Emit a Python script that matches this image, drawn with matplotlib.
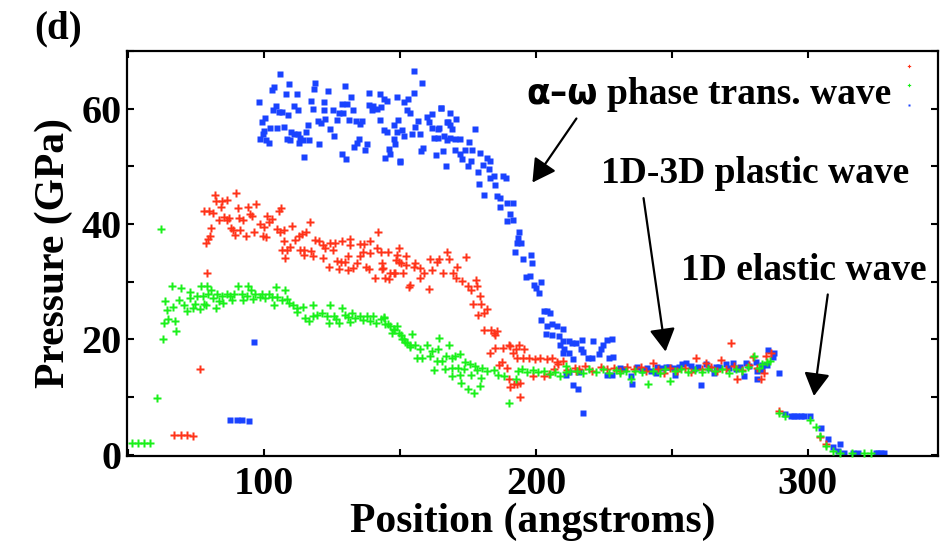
import matplotlib
matplotlib.use("Agg")
import matplotlib.pyplot as plt
from matplotlib.ticker import MultipleLocator

# pressure profiles: (position in angstroms, pressure in GPa)
blue_pts = [
    (87.5, 6.0), (89.8, 6.0), (92.0, 6.0), (94.3, 5.8), (96.3, 19.5),
    (98.2, 61.2), (105.9, 66.1), (102.8, 63.3), (103.7, 63.8), (109.3, 64.2), (108.1, 62.5),
    (112.0, 62.5), (118.8, 64.5), (118.2, 63.5), (123.5, 63.0), (129.6, 64.0), (132.0, 62.0),
    (138.7, 62.7), (142.5, 62.5), (148.8, 62.0), (155.0, 66.5), (158.2, 64.5), (155.0, 62.7),
    (152.8, 61.7), (151.6, 61.2), (145.1, 61.4), (144.2, 61.7), (128.5, 60.8), (130.6, 60.8),
    (117.3, 61.3), (122.1, 61.2), (104.3, 60.5), (110.8, 60.5), (103.2, 59.7), (105.3, 59.5),
    (106.7, 59.4), (108.7, 58.9), (112.6, 59.7), (117.8, 59.9), (121.9, 59.7), (125.2, 59.7),
    (127.7, 59.3), (129.0, 59.2), (132.5, 59.7), (138.7, 60.7), (140.2, 60.5), (141.5, 59.9),
    (139.6, 59.7), (143.0, 60.3), (152.5, 59.7), (153.5, 59.3), (165.2, 60.1), (161.7, 59.0),
    (159.9, 58.6), (100.4, 58.4), (99.1, 57.7), (119.8, 57.9), (122.5, 58.2), (121.0, 57.5),
    (126.7, 58.1), (131.3, 58.1), (133.9, 57.9), (136.0, 57.8), (142.7, 58.1), (149.4, 58.1),
    (147.9, 57.1), (156.5, 57.9), (160.8, 57.7), (167.2, 57.7), (161.7, 56.7), (163.8, 56.4),
    (155.6, 56.8), (116.0, 57.2), (107.1, 56.9), (104.7, 56.7), (102.0, 56.6), (99.8, 56.2),
    (99.4, 55.7), (109.9, 55.9), (111.1, 55.7), (112.3, 55.7), (115.5, 55.9), (124.3, 56.5),
    (125.5, 55.3), (135.4, 57.3), (143.9, 56.3), (145.3, 55.9), (148.8, 55.9), (150.6, 56.3),
    (151.3, 55.3), (147.6, 54.7), (154.3, 55.7), (157.5, 55.7), (162.3, 54.9), (164.1, 54.9),
    (166.0, 55.3), (108.3, 54.7), (109.6, 54.5), (113.3, 54.9), (114.1, 54.5), (116.3, 54.6),
    (98.5, 54.7), (100.7, 54.5), (101.6, 54.0), (112.9, 54.0), (120.0, 53.8), (134.7, 54.7),
    (134.1, 54.0), (132.9, 53.3), (138.0, 53.8), (137.2, 52.8), (146.1, 53.0), (148.2, 53.8),
    (144.6, 51.5), (146.4, 52.2), (158.4, 53.2), (157.7, 52.6), (165.7, 52.6), (163.3, 51.9),
    (167.2, 54.5), (168.5, 57.1), (168.5, 59.2), (114.5, 51.7), (128.6, 52.1), (130.2, 51.3),
    (149.8, 50.7), (150.1, 51.0),
    (165.1, 60.2), (170.7, 58.2), (164.5, 56.7), (167.6, 57.7), (169.1, 56.5), (177.7, 56.4),
    (168.2, 54.9), (170.3, 54.7), (172.2, 54.7), (175.2, 54.2), (170.3, 52.9), (173.8, 52.9),
    (176.5, 52.8), (171.9, 52.1), (172.8, 51.3), (179.3, 52.3), (182.0, 51.5), (183.0, 50.9),
    (176.2, 51.0), (166.9, 50.0), (174.9, 50.0), (180.5, 50.2), (182.6, 49.6), (178.5, 49.0),
    (184.7, 48.4), (187.8, 48.4), (178.9, 47.0), (183.1, 47.9), (184.9, 46.7), (188.8, 47.9),
    (181.0, 45.0), (185.6, 44.8), (186.8, 44.6), (189.3, 43.7), (191.5, 43.6), (186.7, 43.0),
    (190.6, 41.8), (189.2, 40.6), (191.5, 40.7), (193.9, 38.7), (193.3, 37.5), (193.1, 36.8),
    (194.5, 36.8), (192.4, 35.1), (195.2, 34.0), (198.0, 34.7), (198.5, 33.2), (196.5, 30.9),
    (197.7, 31.0), (199.2, 29.5), (200.2, 28.9), (201.0, 28.0), (202.0, 29.9), (202.9, 24.9),
    (204.1, 24.9), (205.0, 24.6), (202.0, 23.4), (204.1, 22.4), (205.9, 22.6), (207.8, 22.4),
    (203.8, 20.9), (205.9, 20.7), (208.4, 20.6), (209.9, 21.8), (210.0, 19.7), (212.0, 19.7),
    (213.3, 19.4), (209.0, 19.1), (214.9, 19.3), (209.8, 17.7), (212.0, 17.7), (211.2, 13.8),
    (213.7, 12.1), (215.3, 11.4),
    (217.0, 19.9), (221.0, 19.7), (224.7, 19.1), (226.2, 19.9), (228.0, 20.1), (210.3, 18.3),
    (216.4, 18.3), (217.3, 17.8), (223.8, 18.3), (223.2, 17.4), (219.3, 16.8), (220.5, 16.8),
    (226.9, 16.7), (228.2, 17.0), (213.8, 16.6), (212.0, 14.4), (216.0, 14.4), (226.2, 13.8),
    (228.0, 13.8), (230.8, 15.1), (234.8, 13.7), (235.4, 12.2), (237.2, 15.3), (239.1, 14.7),
    (244.0, 14.1), (244.4, 15.3), (247.7, 15.3), (250.7, 15.1), (253.8, 15.7), (255.1, 15.9),
    (251.0, 13.8), (258.1, 14.9), (260.6, 12.1), (262.4, 15.7), (266.2, 15.3), (265.6, 14.1),
    (269.8, 15.7), (272.6, 15.9), (273.5, 14.8), (277.2, 16.0), (276.6, 13.7), (280.8, 16.1),
    (281.4, 14.5), (281.2, 13.2), (232.5, 14.8), (241.0, 15.0), (242.5, 14.6), (246.0, 15.0),
    (249.0, 15.2), (252.5, 15.3), (257.0, 15.4), (259.5, 15.2), (263.8, 15.0), (267.5, 15.2),
    (271.0, 15.0), (275.0, 15.3), (278.5, 15.4), (283.3, 15.6),
    (285.4, 18.2), (287.6, 17.7), (287.1, 17.0), (283.3, 14.7), (284.9, 15.6), (289.5, 14.1),
    (217.3, 7.2),
    (291.8, 7.1), (293.7, 6.7), (294.9, 6.7), (296.1, 6.7), (297.4, 6.7), (298.6, 6.7),
    (300.7, 6.7), (304.8, 4.6), (307.5, 2.8), (309.5, 1.3), (311.9, 1.8), (311.3, 0.7),
    (313.4, 0.3), (316.5, 0.3), (318.7, 0.3), (325.0, 0.3), (326.0, 0.3), (327.0, 0.3),
    (328.1, 0.3),
]

red_pts = [
    (66.9, 3.4), (69.2, 3.4), (71.4, 3.4), (73.8, 3.2), (76.2, 14.8), (78.8, 31.5),
    (82.0, 45.1), (89.7, 45.4), (82.3, 44.0), (84.4, 44.0), (86.2, 44.2), (84.0, 43.0),
    (77.9, 42.2), (79.7, 42.2), (81.1, 41.9), (90.2, 42.8), (94.2, 43.0), (97.1, 43.4),
    (94.8, 41.8), (95.5, 41.4), (106.1, 42.7), (105.5, 42.2), (83.2, 40.7), (85.3, 41.3),
    (86.2, 40.7), (86.9, 41.1), (90.9, 41.1), (92.3, 40.7), (101.0, 41.4), (101.9, 40.4),
    (103.0, 40.9), (98.3, 40.0), (100.0, 39.5), (80.5, 39.4), (87.7, 39.3), (88.5, 38.9),
    (91.2, 39.0), (96.3, 38.7), (93.3, 37.9), (89.3, 38.1), (99.5, 37.9), (100.5, 37.8),
    (104.7, 39.1), (105.9, 38.7), (107.4, 39.0), (110.2, 39.7), (116.7, 40.4), (113.9, 38.3),
    (112.7, 37.9), (111.4, 37.2), (115.5, 38.7), (80.1, 37.9), (79.4, 37.4), (78.6, 36.7),
    (107.1, 37.0), (109.6, 36.1), (106.5, 35.5), (108.3, 35.5), (113.0, 35.5), (114.5, 35.5),
    (117.3, 35.3), (118.8, 37.2), (120.0, 37.0), (121.6, 36.4), (122.5, 35.8), (124.3, 36.7),
    (126.1, 36.7), (128.6, 37.0), (131.4, 37.4), (135.4, 36.6), (136.6, 36.6), (138.8, 37.1),
    (141.7, 38.7), (114.7, 34.7), (107.7, 34.1), (117.9, 34.4), (121.8, 34.1), (125.2, 35.5),
    (126.7, 33.6), (128.2, 33.5), (129.8, 33.5), (131.0, 34.4), (131.6, 36.4), (136.5, 35.2),
    (135.4, 34.4), (134.2, 33.2), (139.0, 34.9), (141.5, 35.8), (143.0, 35.1), (145.5, 35.2),
    (149.5, 35.8), (148.9, 34.7), (152.3, 34.5), (123.7, 32.5), (127.4, 32.2), (130.7, 32.1),
    (132.6, 32.4), (137.5, 32.5), (138.6, 32.2), (143.3, 32.2), (140.8, 30.6), (146.4, 31.5),
    (148.2, 31.6), (146.1, 30.5), (149.5, 33.5), (152.0, 32.9), (153.2, 29.1),
    (148.6, 33.8), (143.4, 33.2), (143.8, 32.3), (147.6, 31.5), (144.6, 30.6), (150.3, 33.2),
    (151.0, 31.5), (155.6, 33.2), (155.0, 32.5), (157.5, 32.3), (158.7, 31.5), (160.9, 33.9),
    (161.7, 32.1), (157.2, 30.6), (160.5, 28.7), (153.8, 29.5), (164.2, 33.9), (163.6, 33.4),
    (167.2, 35.1), (167.9, 33.9), (165.8, 31.6), (169.4, 31.5), (170.9, 32.6), (170.7, 30.6),
    (172.8, 30.1), (174.4, 34.3), (174.9, 29.3), (178.1, 30.3), (178.3, 29.3), (176.1, 28.5),
    (179.3, 27.5), (176.9, 26.2), (179.6, 26.2), (182.0, 25.3), (181.0, 24.6), (178.5, 24.3),
    (180.7, 21.6), (183.4, 21.6), (184.4, 21.2), (185.6, 21.4), (185.0, 20.7), (183.2, 17.7),
    (185.0, 18.6), (190.0, 19.1), (188.0, 18.6), (190.6, 18.8), (192.5, 18.3), (193.7, 19.0),
    (191.5, 17.7), (195.5, 18.4), (197.3, 16.8), (199.8, 16.6), (201.4, 16.7), (203.9, 16.6),
    (205.9, 16.7), (207.8, 16.1), (210.0, 16.3), (193.1, 16.8), (195.3, 16.8), (187.5, 16.1),
    (186.3, 15.5), (189.3, 15.1), (190.0, 13.2), (191.8, 12.2), (190.4, 11.8), (193.1, 12.2),
    (194.3, 12.4), (194.0, 10.1), (198.9, 13.6), (202.9, 13.6), (206.5, 14.8), (204.7, 14.0),
    (214.6, 14.5),
    (208.3, 15.7), (214.2, 15.1), (218.1, 15.4), (223.8, 15.3), (228.6, 15.1), (233.6, 15.3),
    (243.1, 16.0), (247.1, 14.1), (258.8, 16.8), (262.4, 16.0), (268.0, 16.4), (271.6, 19.3),
    (274.1, 13.2), (280.0, 17.0), (282.8, 13.1), (284.6, 17.1), (286.4, 17.7),
    (211.5, 14.7), (216.0, 14.9), (220.5, 14.6), (226.0, 14.9), (231.0, 14.5), (236.0, 14.8),
    (238.5, 15.2), (240.5, 14.6), (245.0, 14.9), (249.5, 15.1), (252.0, 14.6), (255.0, 15.0),
    (257.0, 14.4), (261.0, 14.8), (264.5, 15.2), (266.5, 14.5), (270.0, 14.9), (273.0, 15.4),
    (276.0, 14.7), (278.5, 15.5), (281.5, 15.0), (283.8, 14.2),
    (289.5, 7.6), (304.5, 3.1), (306.9, 1.8),
]

green_pts = [
    (51.4, 2.0), (53.6, 2.0), (55.8, 2.0), (58.0, 2.0), (60.4, 9.9), (62.0, 39.1),
    (62.9, 20.0), (63.2, 22.9), (64.5, 23.5), (67.3, 23.2), (67.7, 21.4),
    (66.0, 29.3), (69.3, 28.9), (72.7, 28.3), (76.6, 29.3), (78.8, 29.3), (80.4, 28.5),
    (90.2, 29.3), (94.2, 29.3), (95.1, 28.6), (104.3, 29.1), (107.5, 28.5), (63.5, 26.6),
    (66.6, 25.6), (64.1, 25.1), (68.8, 26.9), (70.3, 25.9), (71.5, 24.9), (72.7, 27.2),
    (74.6, 26.2), (75.2, 27.5), (77.4, 27.6), (77.9, 26.2), (79.4, 27.8), (81.1, 27.2),
    (82.8, 27.8), (84.4, 27.5), (83.5, 26.6), (86.2, 27.8), (87.5, 27.5), (89.0, 27.8),
    (88.0, 26.8), (84.9, 26.3), (82.3, 25.5), (78.6, 26.0), (76.4, 25.3), (73.9, 25.5),
    (91.7, 27.8), (92.3, 26.8), (93.6, 27.5), (95.8, 27.0), (96.7, 27.8), (98.3, 27.4),
    (99.1, 27.8), (100.4, 27.2), (101.6, 27.8), (102.8, 27.4), (103.7, 25.9), (104.7, 27.4),
    (106.5, 26.9), (108.3, 27.0), (109.3, 26.4), (110.5, 25.9), (112.0, 25.5), (114.2, 25.7),
    (112.0, 24.8), (115.1, 23.7), (116.3, 23.2), (117.9, 24.0), (119.4, 24.3), (117.9, 25.9),
    (121.2, 24.6), (123.1, 24.0), (124.0, 22.8), (124.3, 25.9), (125.8, 24.1), (126.5, 23.6),
    (128.6, 25.5), (127.7, 22.8), (129.8, 24.3), (131.0, 23.9), (132.3, 24.6), (131.6, 23.0),
    (133.4, 23.7), (135.4, 24.0), (136.5, 23.4), (137.8, 24.0), (139.0, 23.2), (140.2, 24.0),
    (141.3, 22.8), (143.0, 23.6), (144.2, 23.9), (145.4, 22.6), (146.4, 22.3), (147.6, 21.8),
    (148.8, 22.3), (149.5, 21.1), (150.3, 20.7), (151.3, 20.1), (152.5, 19.4), (153.5, 18.7),
    (143.9, 23.7), (144.6, 22.6), (147.6, 21.7), (146.9, 21.2), (150.6, 20.0), (151.9, 19.5),
    (154.3, 21.0), (153.5, 19.1), (155.6, 19.1), (157.5, 18.4), (159.9, 19.1), (161.7, 18.0),
    (161.1, 17.2), (164.5, 20.3), (164.1, 18.3), (156.2, 16.8), (158.0, 16.8), (163.6, 16.3),
    (165.4, 16.3), (167.0, 17.1), (167.9, 19.0), (169.1, 16.7), (170.3, 17.1), (172.0, 17.4),
    (162.4, 14.7), (166.7, 14.9), (169.1, 15.1), (171.2, 15.1), (173.4, 14.8), (174.0, 16.1),
    (175.9, 15.7), (177.7, 15.4), (178.3, 14.7), (180.1, 15.1), (169.1, 13.6), (172.2, 13.8),
    (176.1, 13.8), (179.6, 13.4), (182.0, 14.5), (184.5, 14.7), (186.0, 13.8), (188.4, 13.7),
    (174.9, 11.4), (177.1, 10.8), (179.3, 11.9), (172.6, 12.5), (190.0, 9.0), (192.5, 13.1),
    (193.3, 14.5), (194.8, 14.8), (196.7, 14.3), (198.9, 14.7), (200.6, 14.3), (202.9, 14.5),
    (205.3, 14.0), (207.1, 14.3), (209.0, 13.7), (210.9, 14.3), (212.7, 14.5), (210.9, 15.4),
    (215.0, 14.6), (217.5, 14.2), (219.5, 14.8), (222.0, 14.4), (224.5, 14.9), (227.0, 14.2),
    (229.5, 14.7), (231.1, 14.1), (233.0, 14.6), (234.8, 13.1), (236.5, 14.5), (239.0, 14.3),
    (241.4, 12.2), (243.0, 14.6), (245.5, 14.2), (247.5, 14.8), (249.5, 12.8), (251.0, 14.5),
    (253.5, 14.9), (256.0, 14.4), (258.5, 14.7), (261.0, 14.3), (263.5, 14.9), (266.0, 14.5),
    (268.5, 14.8), (271.0, 14.2), (273.5, 14.9), (276.0, 14.6), (278.0, 15.2), (280.2, 17.1),
    (282.0, 15.0), (283.3, 15.8), (284.9, 16.1), (286.0, 16.2),
    (289.3, 7.2), (291.8, 6.8), (300.9, 6.1), (303.1, 4.8), (304.5, 3.3), (306.9, 1.6),
    (309.5, 0.6), (312.0, 0.3), (316.3, 0.3), (320.8, 0.3), (323.2, 0.3),
]

x_ticks = [100, 200, 300]
y_ticks = [0, 20, 40, 60]

serif = 'Liberation Serif'
plt.rcParams['font.family'] = serif
plt.rcParams['font.weight'] = 'bold'

fig = plt.figure(figsize=(9.52, 5.55), dpi=100)
ax = fig.add_axes([0.1334, 0.1784, 0.852, 0.7297])

bx, by = zip(*blue_pts)
rx, ry = zip(*red_pts)
gx, gy = zip(*green_pts)
hb, = ax.plot(bx, by, 's', color='#1a43ff', ms=4.2, mec='none', clip_on=False, zorder=2)
hr, = ax.plot(rx, ry, 'P', color='#ff3319', ms=5.4, mec='none', clip_on=False, zorder=3)
hg, = ax.plot(gx, gy, 'P', color='#19f019', ms=5.4, mec='none', clip_on=False, zorder=3)

ax.set_xlim(49.5, 348)
ax.set_ylim(-0.2, 70)
ax.set_xticks(x_ticks)
ax.set_yticks(y_ticks)
ax.xaxis.set_minor_locator(MultipleLocator(50))
ax.yaxis.set_minor_locator(MultipleLocator(10))
ax.tick_params(which='both', direction='in', top=True, right=True, length=5, width=1.5)
ax.tick_params(axis='x', labelsize=29, pad=7)
ax.tick_params(axis='y', labelsize=29, pad=4)
for lab in ax.get_xticklabels() + ax.get_yticklabels():
    lab.set_fontweight('bold')
for sp in ax.spines.values():
    sp.set_linewidth(1.6)

ax.set_xlabel('Position (angstroms)', fontsize=30, fontweight='bold', labelpad=0)
ax.set_ylabel('Pressure (GPa)', fontsize=30, fontweight='bold', labelpad=6)

fig.text(0.061, 0.948, '(d)', fontsize=28, fontweight='bold', ha='center', va='center')

ax.legend([hr, hg, hb], ['', '', ''], loc='upper right', frameon=False, markerscale=0.45,
          handlelength=3, handletextpad=0, borderaxespad=0.4, labelspacing=0.6, fontsize=9)

arrow = dict(arrowstyle='-|>,head_length=0.5,head_width=0.28', color='black', lw=1.6,
             mutation_scale=28, shrinkA=0, shrinkB=0)
ax.annotate('', xy=(198.7, 47.2), xytext=(214.9, 58.3), arrowprops=arrow)
ax.annotate('', xy=(247.7, 17.9), xytext=(239.6, 44.5), arrowprops=arrow)
ax.annotate('', xy=(302.3, 10.2), xytext=(307.4, 27.8), arrowprops=arrow)

ax.text(222.7, 60.9, 'α–ω', fontsize=25, fontweight='bold', family='DejaVu Sans',
        ha='right', va='baseline')
ax.text(226.3, 60.9, 'phase trans. wave', fontsize=27, fontweight='bold',
        ha='left', va='baseline')
ax.text(223.8, 47.1, '1D-3D plastic wave', fontsize=27, fontweight='bold',
        ha='left', va='baseline')
ax.text(253.2, 30.3, '1D elastic wave', fontsize=27, fontweight='bold',
        ha='left', va='baseline')

fig.savefig('out.png', dpi=100)
